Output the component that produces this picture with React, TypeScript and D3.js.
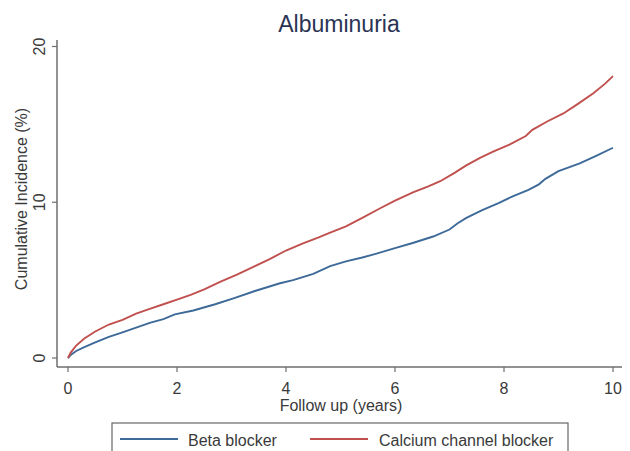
import React from "react";
import * as d3 from "d3";

const xTicks = [0, 2, 4, 6, 8, 10];
const yTicks = [0, 10, 20];

const ccbT = [0, 0.05, 0.15, 0.3, 0.5, 0.75, 1.0, 1.25, 1.5, 1.75, 2.0, 2.25, 2.5, 2.8, 3.1, 3.43, 3.7, 4.0, 4.3, 4.6, 4.81, 5.1, 5.4, 5.72, 6.0, 6.34, 6.6, 6.83, 7.1, 7.3, 7.56, 7.8, 8.1, 8.4, 8.52, 8.8, 9.09, 9.35, 9.64, 9.85, 10.0];
const ccbV = [0, 0.35, 0.8, 1.25, 1.7, 2.15, 2.45, 2.85, 3.15, 3.45, 3.75, 4.05, 4.4, 4.9, 5.35, 5.9, 6.35, 6.9, 7.35, 7.75, 8.05, 8.45, 9.0, 9.6, 10.1, 10.65, 11.0, 11.35, 11.9, 12.35, 12.85, 13.25, 13.7, 14.25, 14.65, 15.2, 15.7, 16.3, 17.0, 17.6, 18.1];

const bbT = [0, 0.05, 0.15, 0.3, 0.5, 0.75, 1.0, 1.25, 1.5, 1.75, 1.96, 2.3, 2.7, 3.05, 3.43, 3.89, 4.13, 4.5, 4.81, 5.1, 5.4, 5.66, 6.0, 6.34, 6.7, 7.0, 7.15, 7.31, 7.6, 7.9, 8.17, 8.45, 8.64, 8.76, 9.0, 9.39, 9.7, 10.0];
const bbV = [0, 0.2, 0.45, 0.7, 1.0, 1.35, 1.65, 1.95, 2.25, 2.5, 2.8, 3.05, 3.45, 3.85, 4.3, 4.8, 5.0, 5.4, 5.9, 6.2, 6.45, 6.7, 7.05, 7.4, 7.8, 8.25, 8.65, 9.0, 9.5, 9.95, 10.4, 10.8, 11.15, 11.5, 12.0, 12.5, 13.0, 13.5];

const seriesNames = ["Beta blocker", "Calcium channel blocker"];
const seriesColors = ["#3d6a98", "#c0504d"];

export default function App() {
  const W = 630, H = 451;
  const x = d3.scaleLinear().domain([0, 10]).range([68, 613]);
  const y = d3.scaleLinear().domain([0, 20]).range([358, 46.5]);
  const line = d3.line<[number, number]>().x(d => x(d[0])).y(d => y(d[1]));
  const bb: [number, number][] = bbT.map((t, i) => [t, bbV[i]]);
  const ccb: [number, number][] = ccbT.map((t, i) => [t, ccbV[i]]);
  const font = "'Liberation Sans', Arial, sans-serif";
  const axisCol = "#6e6e6e";
  const textCol = "#3a3a3a";
  return (
    <svg width={W} height={H} style={{ position: "absolute", left: 0, top: 0, background: "#fff" }} fontFamily={font}>
      <text x={339} y={32} textAnchor="middle" fontSize={23} fill="#2b3454">Albuminuria</text>
      {/* axes */}
      <line x1={57} x2={57} y1={40} y2={367} stroke={axisCol} strokeWidth={1.5} />
      <line x1={57} x2={622} y1={367} y2={367} stroke={axisCol} strokeWidth={1.5} />
      {yTicks.map(t => (
        <g key={"y" + t}>
          <line x1={52} x2={57} y1={y(t)} y2={y(t)} stroke={axisCol} strokeWidth={1.2} />
          <text transform={`translate(45,${y(t)}) rotate(-90)`} textAnchor="middle" fontSize={16} fill={textCol}>{t}</text>
        </g>
      ))}
      {xTicks.map(t => (
        <g key={"x" + t}>
          <line x1={x(t)} x2={x(t)} y1={367} y2={372} stroke={axisCol} strokeWidth={1.2} />
          <text x={x(t)} y={394} textAnchor="middle" fontSize={16} fill={textCol}>{t}</text>
        </g>
      ))}
      <text x={341} y={411} textAnchor="middle" fontSize={16} fill={textCol}>Follow up (years)</text>
      <text transform={`translate(27,199) rotate(-90)`} textAnchor="middle" fontSize={16} fill={textCol}>Cumulative Incidence (%)</text>
      {/* curves */}
      <path d={line(bb) || ""} fill="none" stroke={seriesColors[0]} strokeWidth={1.9} />
      <path d={line(ccb) || ""} fill="none" stroke={seriesColors[1]} strokeWidth={1.9} />
      {/* legend */}
      <rect x={112} y={423} width={456} height={40} fill="#fff" stroke="#666" strokeWidth={1.2} />
      <line x1={120} x2={178} y1={439} y2={439} stroke={seriesColors[0]} strokeWidth={1.9} />
      <text x={188} y={446} fontSize={16} fill={textCol}>{seriesNames[0]}</text>
      <line x1={310} x2={368} y1={439} y2={439} stroke={seriesColors[1]} strokeWidth={1.9} />
      <text x={379} y={446} fontSize={16} fill={textCol}>{seriesNames[1]}</text>
    </svg>
  );
}
